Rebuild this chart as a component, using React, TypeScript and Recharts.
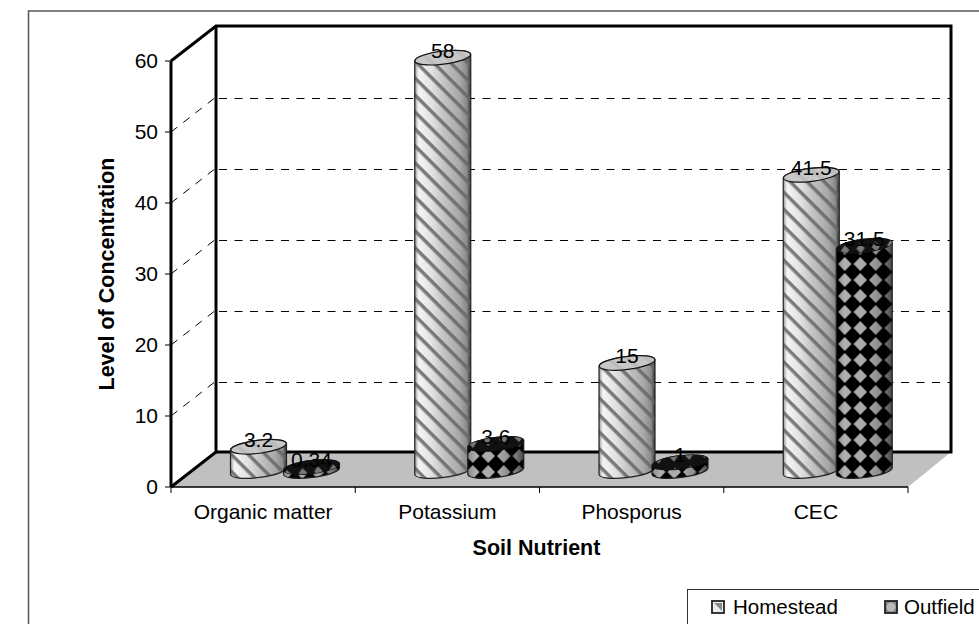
import React from "react";
import {
  BarChart,
  Bar,
  XAxis,
  YAxis,
  CartesianGrid,
  LabelList,
  Legend,
  Customized,
} from "recharts";

const categories = ["Organic matter", "Potassium", "Phosporus", "CEC"];
const homestead = [3.2, 58, 15, 41.5];
const outfield = [0.34, 3.6, 1, 31.5];
const yTicks = [0, 10, 20, 30, 40, 50, 60];

const data = categories.map((name, i) => ({
  name,
  homestead: homestead[i],
  outfield: outfield[i],
}));

const FONT = '"Liberation Sans", Arial, sans-serif';
// front plane of the fake 3D box, and how far the back wall is pushed
const PLOT = { left: 171, top: 61, right: 908, bottom: 487 };
const DX = 45;
const DY = -35;
const BAR_DX = 21.5;
const BAR_DY = -17.5;
const BAND = (PLOT.right - PLOT.left) / categories.length;
const TILT = 3.5;
const RY = 6.5;

function Walls() {
  const { left, top, right, bottom } = PLOT;
  const backLeft = left + DX;
  const backRight = right + 43;
  const backTop = top + DY;
  const backBottom = bottom + DY;
  return (
    <g>
      <rect x={28.5} y={11} width={1100} height={900} fill="none" stroke="#555" strokeWidth={1.5} />
      <polygon
        points={`${left},${bottom} ${backLeft},${backBottom} ${backRight},${backBottom} ${right},${bottom}`}
        fill="#c0c0c0"
      />
      <g fill="none" stroke="#000" strokeWidth={3}>
        <path d={`M${left},${top} L${backLeft},${backTop} H${backRight} V${backBottom} H${backLeft}`} />
        <path d={`M${backLeft},${backTop} V${backBottom} L${left},${bottom}`} />
      </g>
    </g>
  );
}

function GridLine(props: any) {
  const { x1, y1, x2, y2 } = props;
  if (y1 <= PLOT.top + 1 || y1 >= PLOT.bottom - 1) return <g />;
  return (
    <g stroke="#000" strokeWidth={1} strokeDasharray="8 7.5" fill="none">
      <line x1={x1} y1={y1} x2={x1 + DX} y2={y1 + DY} />
      <line x1={x1 + DX + 3} y1={y2 + DY + 1.5} x2={x2 + 43} y2={y2 + DY + 1.5} />
    </g>
  );
}

function Cylinder({ x, y, width, height, body, top }: any) {
  const cx = x + width / 2 + BAR_DX;
  const rx = width / 2;
  const ty = y + BAR_DY;
  const by = y + height + BAR_DY + 1.5;
  const arc = `A${rx} ${RY} -7 0 0`;
  const d = `M${cx - rx},${ty + TILT} V${by + TILT} ${arc} ${cx + rx},${by - TILT} V${ty - TILT} ${arc} ${cx - rx},${ty + TILT} Z`;
  return (
    <g>
      <path d={d} fill={body.gradient} />
      <path d={d} fill={body.pattern} stroke="#222" strokeWidth={1.2} />
      <ellipse
        cx={cx}
        cy={ty}
        rx={rx}
        ry={RY}
        transform={`rotate(-7 ${cx} ${ty})`}
        fill={top.fill}
        stroke="#111"
        strokeWidth={1.2}
      />
      <ellipse cx={cx} cy={ty} rx={rx} ry={RY} transform={`rotate(-7 ${cx} ${ty})`} fill={top.pattern} />
    </g>
  );
}

function BarValue({ x, y, width, value }: any) {
  return (
    <text
      x={x + width / 2 + BAR_DX}
      y={y + BAR_DY}
      textAnchor="middle"
      fontFamily={FONT}
      fontSize={21}
      fill="#000"
    >
      {value}
    </text>
  );
}

function CategoryTick({ x, y, payload, index }: any) {
  const edge = x - BAND / 2;
  return (
    <g>
      <line x1={edge} y1={PLOT.bottom} x2={edge} y2={PLOT.bottom + 6} stroke="#000" />
      {index === categories.length - 1 && (
        <line x1={x + BAND / 2} y1={PLOT.bottom} x2={x + BAND / 2} y2={PLOT.bottom + 6} stroke="#000" />
      )}
      <text x={x} y={y + 24} textAnchor="middle" fontFamily={FONT} fontSize={21} fill="#000">
        {payload.value}
      </text>
    </g>
  );
}

function LegendBox() {
  const icon = (a: string, b: string, shape: React.ReactNode) => (
    <svg width={14} height={14} style={{ display: "block" }}>
      <rect x={1} y={1} width={12} height={12} fill={a} stroke="#222" strokeWidth={1.8} />
      <polygon points="3,3 11,3 11,11" fill={b} />
      {shape}
    </svg>
  );
  return (
    <div
      style={{
        width: 300,
        height: 50,
        boxSizing: "border-box",
        border: "1px solid #333",
        background: "#fff",
        fontFamily: FONT,
        fontSize: 20.5,
        color: "#000",
        position: "relative",
      }}
    >
      <div style={{ position: "absolute", left: 23, top: 10 }}>
        {icon("#eee", "#888", null)}
      </div>
      <div style={{ position: "absolute", left: 45, top: 5, lineHeight: "24px" }}>Homestead</div>
      <div style={{ position: "absolute", left: 196, top: 10 }}>
        {icon("#888", "#777", <circle cx={7} cy={7} r={4.5} fill="#bbb" />)}
      </div>
      <div style={{ position: "absolute", left: 216, top: 5, lineHeight: "24px" }}>Outfield</div>
    </div>
  );
}

const homesteadBody = { gradient: "url(#homeShade)", pattern: "url(#stripes)" };
const homesteadTop = { fill: "#c8c8c8", pattern: "url(#stripesFaint)" };
const outfieldBody = { gradient: "url(#outShade)", pattern: "url(#diamonds)" };
const outfieldTop = { fill: "#111", pattern: "url(#diamondsTop)" };

export default function App() {
  return (
    <div
      style={{
        position: "absolute",
        left: 0,
        top: 0,
        width: 979,
        height: 624,
        overflow: "hidden",
        background: "#fff",
      }}
    >
      <BarChart
        width={979}
        height={624}
        data={data}
        margin={{ top: PLOT.top, right: 979 - PLOT.right, bottom: 0, left: 0 }}
        barSize={56}
        barGap={-3}
      >
        <defs>
          <linearGradient id="homeShade" x1="0" y1="0" x2="1" y2="0">
            <stop offset="0" stopColor="#9a9a9a" />
            <stop offset="0.07" stopColor="#f4f4f4" />
            <stop offset="0.3" stopColor="#e2e2e2" />
            <stop offset="0.5" stopColor="#c6c6c6" />
            <stop offset="0.8" stopColor="#a8a8a8" />
            <stop offset="0.93" stopColor="#8a8a8a" />
            <stop offset="1" stopColor="#333" />
          </linearGradient>
          <linearGradient id="outShade" x1="0" y1="0" x2="1" y2="0">
            <stop offset="0" stopColor="#888" />
            <stop offset="0.15" stopColor="#b0b0b0" />
            <stop offset="0.55" stopColor="#a8a8a8" />
            <stop offset="0.85" stopColor="#808080" />
            <stop offset="1" stopColor="#444" />
          </linearGradient>
          <pattern id="stripes" patternUnits="userSpaceOnUse" width={12} height={12} patternTransform="rotate(45)">
            <rect width={12} height={3.5} fill="#666" fillOpacity={0.85} />
          </pattern>
          <pattern id="stripesFaint" patternUnits="userSpaceOnUse" width={12} height={12} patternTransform="rotate(45)">
            <rect width={12} height={3.5} fill="#888" fillOpacity={0.2} />
          </pattern>
          <pattern id="diamonds" patternUnits="userSpaceOnUse" width={15.5} height={16}>
            <path d="M0,0 H15.5 V16 H0 Z M7.75,1 L14.5,8 L7.75,15 L1,8 Z" fill="#000" fillRule="evenodd" />
          </pattern>
          <pattern id="diamondsTop" patternUnits="userSpaceOnUse" width={15.5} height={16}>
            <path d="M7.75,3 L12,8 L7.75,13 L3.5,8 Z" fill="#777" />
          </pattern>
        </defs>
        <Customized component={Walls} />
        <CartesianGrid horizontal={GridLine} vertical={false} stroke="none" />
        <XAxis
          dataKey="name"
          height={624 - PLOT.bottom}
          axisLine={{ stroke: "#000", strokeWidth: 1.5 }}
          tickLine={false}
          tick={CategoryTick}
          interval={0}
          label={{
            value: "Soil Nutrient",
            position: "insideTop",
            offset: 53,
            dx: -3,
            style: { fontFamily: FONT, fontSize: 21.5, fontWeight: 700, fill: "#000" },
          }}
        />
        <YAxis
          domain={[0, 60]}
          ticks={yTicks}
          width={PLOT.left}
          interval={0}
          axisLine={{ stroke: "#000", strokeWidth: 3 }}
          tickLine={{ stroke: "#000" }}
          tickSize={6}
          tickMargin={7}
          tick={{ fontFamily: FONT, fontSize: 21, fill: "#000" }}
          label={{
            value: "Level of Concentration",
            angle: -90,
            position: "insideLeft",
            offset: 106,
            style: { fontFamily: FONT, fontSize: 21.5, fontWeight: 700, fill: "#000", textAnchor: "middle" },
          }}
        />
        <Bar
          dataKey="homestead"
          name="Homestead"
          isAnimationActive={false}
          shape={(p: any) => <Cylinder {...p} body={homesteadBody} top={homesteadTop} />}
        >
          <LabelList dataKey="homestead" content={BarValue} />
        </Bar>
        <Bar
          dataKey="outfield"
          name="Outfield"
          isAnimationActive={false}
          shape={(p: any) => <Cylinder {...p} body={outfieldBody} top={outfieldTop} />}
        >
          <LabelList dataKey="outfield" content={BarValue} />
        </Bar>
        <Legend
          layout="horizontal"
          verticalAlign="middle"
          content={LegendBox}
          wrapperStyle={{ left: 687, top: 589, width: 300, height: 50 }}
        />
      </BarChart>
    </div>
  );
}
